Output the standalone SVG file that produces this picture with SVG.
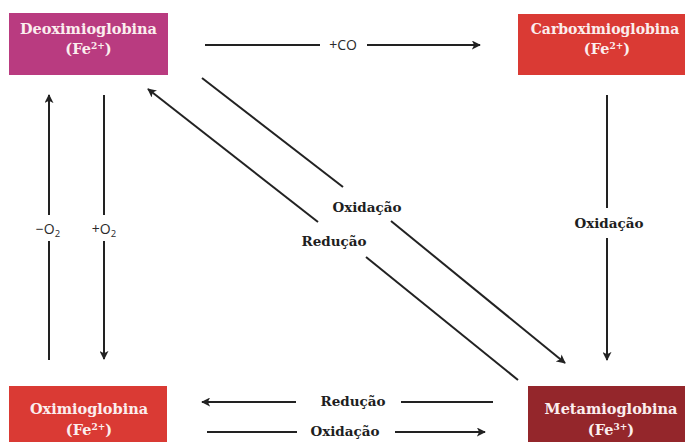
<svg xmlns="http://www.w3.org/2000/svg" width="685" height="442" viewBox="0 0 685 442">
<style>
.box text{font-family:"DejaVu Serif","Liberation Serif",serif;font-weight:bold;font-size:14.5px;fill:#fbeeee;text-anchor:middle}
.sup{font-size:9px}
.ln{stroke:#222;stroke-width:2;fill:none}
.lbl{font-family:"DejaVu Serif","Liberation Serif",serif;font-weight:bold;font-size:13.5px;fill:#1e1e1e;text-anchor:middle}
.sans{font-family:"Open Sans","Noto Sans",sans-serif;font-size:14px;fill:#2a2a2a;text-anchor:middle}
</style>
<defs>
<marker id="ah" viewBox="0 0 10 10" refX="9" refY="5" markerWidth="9" markerHeight="9" markerUnits="userSpaceOnUse" orient="auto">
<path d="M0,0 L10,5 L0,10 L2.5,5 Z" fill="#222"/>
</marker>
</defs>
<rect width="685" height="442" fill="#fff"/>
<g id="deoxi" class="box">
<rect x="9" y="13" width="159" height="62" fill="#b93b80"/>
<text x="88.5" y="34">Deoximioglobina</text>
<text x="88.5" y="54">(Fe<tspan class="sup" dy="-5">2+</tspan><tspan dy="5">)</tspan></text>
</g>
<g id="carboxi" class="box">
<rect x="518" y="14" width="170" height="61" fill="#da3a34"/>
<text x="605" y="34" style="font-size:14px">Carboximioglobina</text>
<text x="607" y="54">(Fe<tspan class="sup" dy="-5">2+</tspan><tspan dy="5">)</tspan></text>
</g>
<g id="oxi" class="box">
<rect x="9" y="386" width="158" height="60" fill="#da3a34"/>
<text x="89" y="414">Oximioglobina</text>
<text x="89" y="435">(Fe<tspan class="sup" dy="-5">2+</tspan><tspan dy="5">)</tspan></text>
</g>
<g id="meta" class="box">
<rect x="528" y="386" width="160" height="60" fill="#94262b"/>
<text x="611" y="414">Metamioglobina</text>
<text x="611" y="435">(Fe<tspan class="sup" dy="-5">3+</tspan><tspan dy="5">)</tspan></text>
</g>
<g id="connectors">
<path class="ln" d="M205,45 H320"/>
<path class="ln" d="M367,45 H480" marker-end="url(#ah)"/>
<text class="sans" x="343" y="50">+CO</text>

<path class="ln" d="M607,95 V208"/>
<path class="ln" d="M607,238 V360" marker-end="url(#ah)"/>
<text class="lbl" x="609" y="228">Oxidação</text>

<path class="ln" d="M49,360 V241"/>
<path class="ln" d="M49,215 V95" marker-end="url(#ah)"/>
<text class="sans" x="48" y="234">−O<tspan font-size="9.5" dy="3">2</tspan></text>

<path class="ln" d="M104,95 V215"/>
<path class="ln" d="M104,241 V359" marker-end="url(#ah)"/>
<text class="sans" x="104" y="234">+O<tspan font-size="9.5" dy="3">2</tspan></text>

<path class="ln" d="M202,78 L343,187"/>
<path class="ln" d="M391,221 L565,363" marker-end="url(#ah)"/>
<text class="lbl" x="367" y="212">Oxidação</text>

<path class="ln" d="M518,380 L366,257"/>
<path class="ln" d="M318,222 L148,89" marker-end="url(#ah)"/>
<text class="lbl" x="334" y="246">Redução</text>

<path class="ln" d="M296,402 H202" marker-end="url(#ah)"/>
<path class="ln" d="M401,402 H493"/>
<text class="lbl" x="353" y="406">Redução</text>

<path class="ln" d="M207,432 H297"/>
<path class="ln" d="M395,432 H485" marker-end="url(#ah)"/>
<text class="lbl" x="345" y="436">Oxidação</text>
</g>
</svg>
